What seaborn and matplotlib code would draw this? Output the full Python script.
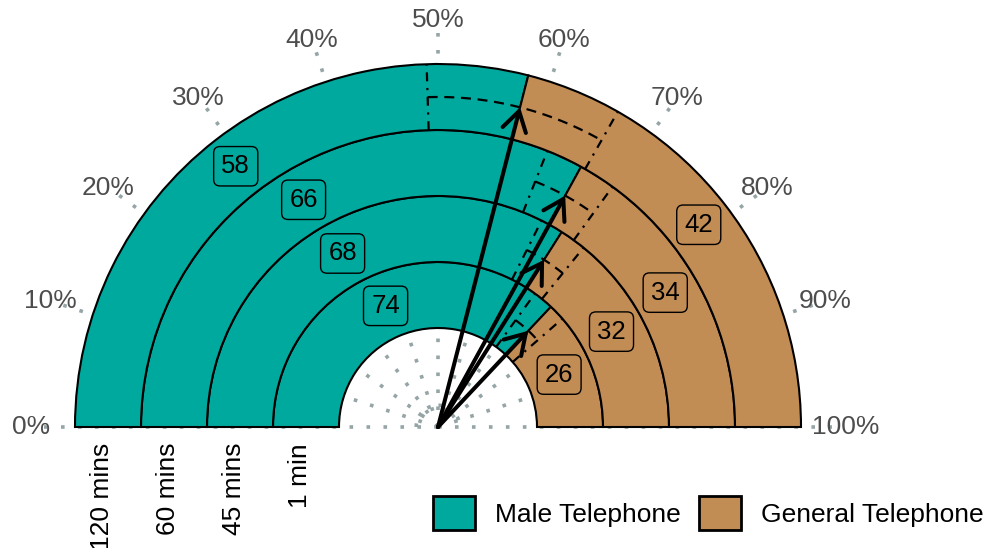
import numpy as np
import matplotlib
matplotlib.use("Agg")
import matplotlib.pyplot as plt
import seaborn as sns
from matplotlib.patches import Patch

# ---- data ---------------------------------------------------------------
durations = ["1 min", "45 mins", "60 mins", "120 mins"]      # inner -> outer ring
male_pct = [74, 68, 66, 58]
general_pct = [26, 32, 34, 42]
ci_low = [70.0, 64.8, 62.0, 49.0]
ci_high = [77.2, 71.7, 70.0, 66.5]
pct_ticks = [0, 10, 20, 30, 40, 50, 60, 70, 80, 90, 100]
series = ["Male Telephone", "General Telephone"]
colors = ["#00A99D", "#C28C55"]

# ---- style --------------------------------------------------------------
sns.set_theme(style="white")
plt.rcParams["font.family"] = ["Liberation Sans", "DejaVu Sans"]

W, H = 987, 548
fig = plt.figure(figsize=(W / 100, H / 100), dpi=100)

unit = 66.0          # pixels per ring width
hole = 1.5           # radius of the empty centre, in ring widths
rmax = 5.9
cx, cy = 438, 427
R = rmax * unit
# the half-disc is scaled as a full circle and centred in the axes box
box_top = cy - 1.5 * R
ax = fig.add_axes([(cx - R) / W, (H - (box_top + 2 * R)) / H, 2 * R / W, 2 * R / H],
                  projection="polar")
ax.set_theta_zero_location("W")
ax.set_theta_direction(-1)
ax.set_thetamin(0)
ax.set_thetamax(180)
ax.set_ylim(0, rmax)
ax.axis("off")


def th(p):
    """percentage -> angle (radians) on the half circle"""
    return np.deg2rad(np.asarray(p) * 1.8)


grid_col = "#95a5a6"
dots = (0, (1, 3.7))

# dotted radial guides and the small inner circle
for p in pct_ticks:
    sns.lineplot(x=[th(p), th(p)], y=[0, 5.98], ax=ax, estimator=None,
                 color=grid_col, lw=2.6, linestyle=dots,
                 clip_on=False, zorder=0)
circ = np.linspace(0, np.pi, 60)
sns.lineplot(x=circ, y=np.full_like(circ, 0.33), ax=ax, estimator=None,
             sort=False, color=grid_col, lw=2.6, linestyle=(0, (1, 2.2)),
             clip_on=False, zorder=0)

# ---- rings --------------------------------------------------------------
for i, d in enumerate(durations):
    base = hole + i
    m, g = male_pct[i], general_pct[i]
    ax.bar(th(0), 1, width=th(m), bottom=base, align="edge",
           color=colors[0], edgecolor="black", lw=1.5, clip_on=False, zorder=1)
    ax.bar(th(m), 1, width=th(g), bottom=base, align="edge",
           color=colors[1], edgecolor="black", lw=1.5, clip_on=False, zorder=1)

# interval guides: dash-dot bounds and a dashed arc through the ring middle
for i, d in enumerate(durations):
    base = hole + i
    for b in (ci_low[i], ci_high[i]):
        sns.lineplot(x=[th(b), th(b)], y=[base, base + 1], ax=ax,
                     estimator=None, color="black", lw=1.6,
                     linestyle=(0, (4, 3, 1, 3)), zorder=2)
    arc = np.linspace(th(ci_low[i]), th(ci_high[i]), 80)
    sns.lineplot(x=arc, y=np.full_like(arc, base + 0.5), ax=ax,
                 estimator=None, sort=False, color="black", lw=1.6,
                 linestyle=(0, (4.5, 3)), zorder=2)

# arrows from the centre to each split point
for i, d in enumerate(durations):
    base = hole + i
    ax.annotate("", xy=(th(male_pct[i]), base + 0.5), xytext=(0, 0),
                arrowprops=dict(arrowstyle="->,head_length=0.52,head_width=0.32",
                                lw=2.9, color="black", shrinkA=0, shrinkB=0,
                                mutation_scale=27),
                annotation_clip=False, zorder=3)

# value labels
for i, d in enumerate(durations):
    base = hole + i
    m, g = male_pct[i], general_pct[i]
    for pos, val, col in ((m / 2, m, colors[0]), (m + g / 2, g, colors[1])):
        ax.text(th(pos), base + 0.5, str(val), ha="center", va="center",
                fontsize=18.5, color="black", zorder=4,
                bbox=dict(boxstyle="round,pad=0.3,rounding_size=0.25",
                          fc=col, ec="black", lw=1.0))

# percentage labels around the arc
for p in pct_ticks:
    ax.text(th(p), 6.17, f"{p}%", ha="center", va="center",
            fontsize=19, color="#4D4D4D")

# ring names under the baseline
for i, d in enumerate(durations):
    ax.annotate(d, xy=(0, hole + i + 0.5), xytext=(-4.3, -11.5),
                textcoords="offset points", rotation=90, ha="center",
                va="top", fontsize=19, color="black", annotation_clip=False)

# ---- legend -------------------------------------------------------------
handles = [Patch(facecolor=c, edgecolor="black", lw=2) for c in colors]
fig.legend(handles, series, ncol=2, frameon=False, fontsize=19,
           labelcolor="black",
           handlelength=1.6, handleheight=1.6, handletextpad=0.75,
           columnspacing=0.7, borderpad=0, borderaxespad=0,
           loc="center left", bbox_to_anchor=(433 / W, (H - 513) / H))

fig.savefig("out.png", dpi=100)
